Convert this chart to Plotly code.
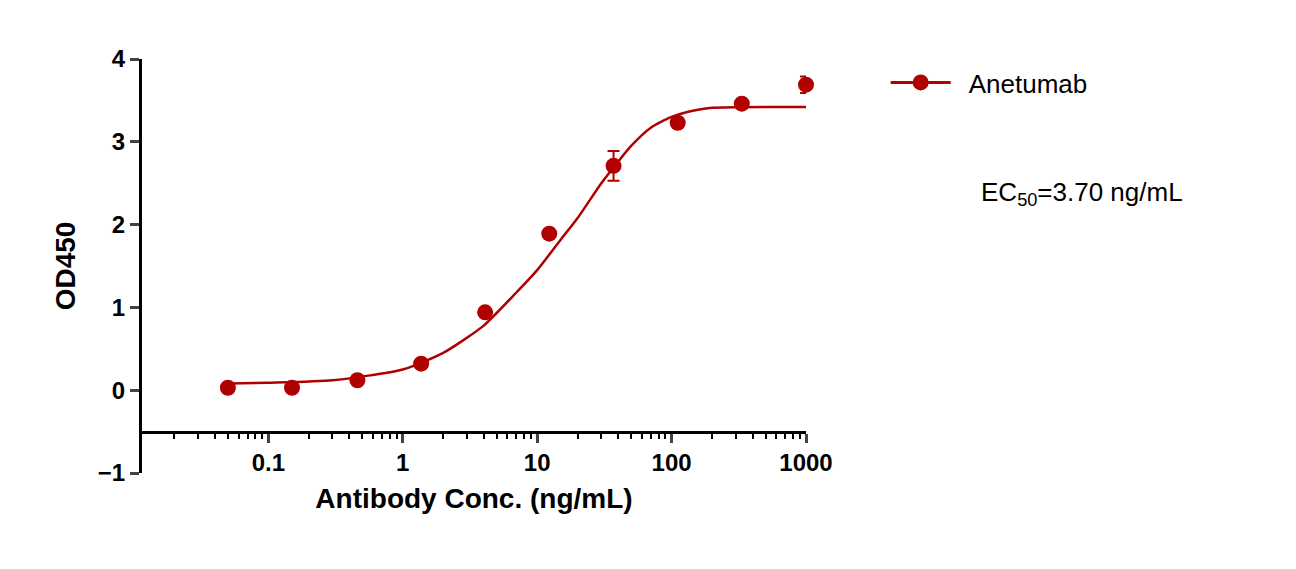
import plotly.graph_objects as go

conc = [0.05, 0.15, 0.46, 1.37, 4.1, 12.3, 37, 111, 333, 1000]
od450 = [0.03, 0.03, 0.12, 0.32, 0.94, 1.89, 2.71, 3.23, 3.46, 3.69]
od_err = [0.02, 0.02, 0.02, 0.02, 0.03, 0.03, 0.18, 0.03, 0.03, 0.1]

fit_x = [0.05, 0.1, 0.3, 1, 2, 4, 7, 10, 15, 20, 30, 40, 50, 70, 100, 150, 200, 1000]
fit_y = [0.08, 0.09, 0.12, 0.25, 0.45, 0.78, 1.18, 1.45, 1.82, 2.08, 2.5, 2.76, 2.95, 3.17, 3.3, 3.38, 3.41, 3.42]

red = "#B00000"
tickfont = dict(family="Liberation Sans, Arial", size=24, color="black", weight="bold")

minor_vals = [m * 10 ** e for e in range(-2, 3) for m in range(2, 10)]
minor_vals = [v for v in minor_vals if v > 0.0115]

fig = go.Figure()
fig.add_trace(go.Scatter(x=fit_x, y=fit_y, mode="lines", line=dict(color=red, width=2.5, shape="spline", smoothing=0.6),
                         showlegend=False, hoverinfo="skip"))
fig.add_trace(go.Scatter(x=conc, y=od450, mode="markers", name="Anetumab",
                         marker=dict(color=red, size=16),
                         error_y=dict(type="data", array=od_err, color=red, thickness=2, width=6),
                         cliponaxis=False, showlegend=False))
# legend entry
fig.add_trace(go.Scatter(x=[None], y=[None], mode="lines+markers", name="  Anetumab",
                         line=dict(color=red, width=3), marker=dict(color=red, size=16)))

fig.update_xaxes(type="log", range=[-1.94, 3], showgrid=False, zeroline=False,
                 showline=True, linewidth=3, linecolor="black",
                 anchor="free", position=0.1,
                 ticks="outside", ticklen=9, tickwidth=3,
                 tickvals=[0.1, 1, 10, 100, 1000], ticktext=["0.1", "1", "10", "100", "1000"],
                 tickfont=tickfont,
                 minor=dict(tickvals=minor_vals, ticks="outside", ticklen=5, tickwidth=2, tickcolor="black"),
                 title=dict(text="<b>Antibody Conc. (ng/mL)</b>",
                            font=dict(family="Liberation Sans, Arial", size=28, color="black"), standoff=12))
fig.update_yaxes(range=[-1, 4], showgrid=False, zeroline=False,
                 showline=True, linewidth=3, linecolor="black",
                 ticks="outside", ticklen=9, tickwidth=3, tickvals=[-1, 0, 1, 2, 3, 4],
                 tickfont=tickfont,
                 title=dict(text="<b>OD450</b>", font=dict(family="Liberation Sans, Arial", size=28, color="black"),
                            standoff=15))

fig.add_annotation(xref="paper", yref="paper", x=1.26, y=0.72, showarrow=False, xanchor="left",
                   text="EC<sub>50</sub>=3.70 ng/mL", font=dict(family="Liberation Sans, Arial", size=26, color="black"))

fig.update_layout(width=1296, height=569, plot_bgcolor="white", paper_bgcolor="white",
                  margin=dict(l=134, r=498, t=51, b=104),
                  legend=dict(x=1.12, y=1.0, xanchor="left", yanchor="top",
                              font=dict(family="Liberation Sans, Arial", size=26, color="black"), itemwidth=60))
fig.write_html("out.html")
